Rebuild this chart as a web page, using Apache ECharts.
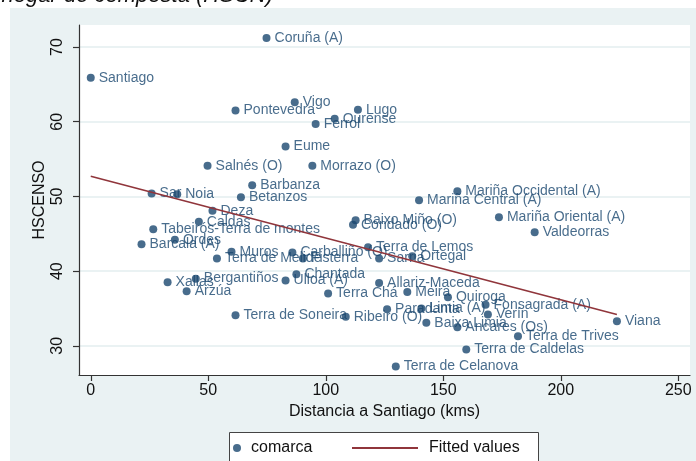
<!DOCTYPE html>
<html>
<head>
<meta charset="utf-8">
<script src="https://cdn.jsdelivr.net/npm/echarts@6/dist/echarts.min.js"></script>
<style>
  html, body { margin: 0; padding: 0; background: #ffffff; }
  #chart { width: 696px; height: 461px; }
</style>
</head>
<body>
<div id="chart"></div>
<script>
// Comarcas of Galicia: distance to Santiago (km) vs. HSCENSO
const comarcas = [
  'Coruña (A)', 'Santiago', 'Vigo', 'Pontevedra', 'Ferrol', 'Ourense', 'Lugo', 'Eume',
  'Salnés (O)', 'Morrazo (O)', 'Barbanza', 'Betanzos', 'Sar', 'Noia', 'Deza', 'Caldas',
  'Tabeirós-Terra de montes', 'Ordes', 'Barcala (A)', 'Muros', 'Terra de Melide', 'Fisterra',
  'Carballiño (O)', 'Terra de Lemos', 'Sarria', 'Ortegal', 'Baixo Miño (O)', 'Condado (O)',
  'Mariña Occidental (A)', 'Mariña Central (A)', 'Mariña Oriental (A)', 'Valdeorras',
  'Chantada', 'Ulloa (A)', 'Bergantiños', 'Xallas', 'Arzúa', 'Terra de Soneira', 'Ribeiro (O)',
  'Terra Chá', 'Allariz-Maceda', 'Meira', 'Quiroga', 'Paradanta', 'Limia (A)', 'Baixa Limia',
  'Ancares (Os)', 'Fonsagrada (A)', 'Verín', 'Terra de Trives', 'Terra de Caldelas',
  'Terra de Celanova', 'Viana'
];
const distancia = [
  74.8, 0, 86.8, 61.6, 95.7, 103.8, 113.7, 82.9,
  49.7, 94.3, 68.7, 63.9, 25.9, 36.8, 51.8, 46.0,
  26.6, 35.8, 21.6, 59.9, 53.7, 90.3,
  85.8, 118.0, 122.7, 136.8, 112.7, 111.6,
  156.0, 139.7, 173.7, 188.9,
  87.5, 82.9, 44.7, 32.7, 40.8, 61.6, 108.5,
  101.0, 122.7, 134.7, 152.0, 126.1, 140.7, 142.8,
  156.0, 168.0, 169.0, 181.8, 159.8,
  129.8, 223.9
];
const hscenso = [
  71.2, 65.9, 62.6, 61.5, 59.7, 60.4, 61.6, 56.7,
  54.1, 54.1, 51.5, 49.9, 50.4, 50.3, 48.1, 46.6,
  45.6, 44.2, 43.6, 42.6, 41.7, 41.7,
  42.5, 43.2, 41.7, 42.0, 46.8, 46.2,
  50.7, 49.5, 47.2, 45.2,
  39.6, 38.75, 39.0, 38.5, 37.3, 34.1, 33.9,
  37.0, 38.4, 37.2, 36.5, 34.9, 35.0, 33.1,
  32.5, 35.5, 34.2, 31.3, 29.5,
  27.25, 33.3
];

// Fitted regression line, at the smallest and largest distance
const fittedX = [0, 223.9];
const fittedY = [52.7, 34.2];

// Axis ticks
const xTicks = [0, 50, 100, 150, 200, 250];
const yTicks = [30, 40, 50, 60, 70];

const navy = '#1a476f';
const maroon = '#90353b';
const font = "'Liberation Sans', Arial, sans-serif";

const points = comarcas.map((name, i) => ({ name: name, value: [distancia[i], hscenso[i]] }));
const fitted = fittedX.map((x, i) => [x, fittedY[i]]);

const chart = echarts.init(document.getElementById('chart'), null, { renderer: 'canvas' });

chart.setOption({
  backgroundColor: '#ffffff',
  animation: false,
  textStyle: { fontFamily: font },
  graphic: [
    {
      type: 'rect', z: -10, silent: true,
      shape: { x: 10, y: 8, width: 700, height: 470 },
      style: { fill: '#eaf2f3' }
    },
    {
      type: 'text', z: 10, silent: true,
      style: {
        x: 273, y: 7, text: 'Tamaño del hogar de composta (HSCN)',
        align: 'right', verticalAlign: 'bottom',
        font: "italic 22px 'Liberation Sans', Arial, sans-serif", fill: '#111'
      }
    },
    {
      type: 'rect', z: 1, silent: true,
      shape: { x: 229.5, y: 432.5, width: 309, height: 40 },
      style: { fill: '#ffffff', stroke: '#444', lineWidth: 1 }
    }
  ],
  grid: {
    left: 79, right: 6, top: 25, bottom: 86,
    show: true, backgroundColor: '#ffffff', borderWidth: 0
  },
  legend: [
    {
      data: [{ name: 'comarca', icon: 'circle' }],
      left: 233, top: 440, padding: 0, z: 5,
      itemWidth: 18, itemHeight: 8,
      textStyle: { fontSize: 16, color: '#111', fontFamily: font }
    },
    {
      data: [{ name: 'Fitted values', icon: 'rect', itemStyle: { color: maroon } }],
      left: 352, top: 440, padding: 0, z: 5,
      itemWidth: 66, itemHeight: 2,
      textStyle: { fontSize: 16, color: '#111', fontFamily: font, padding: [0, 0, 0, 6] }
    }
  ],
  xAxis: {
    type: 'value', min: -5, max: 255,
    name: 'Distancia a Santiago (kms)', nameLocation: 'middle', nameGap: 28,
    nameTextStyle: { fontSize: 16, color: '#111', fontFamily: font },
    axisLine: { show: true, onZero: false, lineStyle: { color: '#333', width: 1.2 } },
    axisTick: { show: true, customValues: xTicks, length: 6, lineStyle: { color: '#333', width: 1.2 } },
    axisLabel: { customValues: xTicks, fontSize: 16, color: '#111', margin: 8, fontFamily: font },
    splitLine: { show: false }
  },
  yAxis: {
    type: 'value', min: 26.1, max: 72.95,
    name: 'HSCENSO', nameLocation: 'middle', nameGap: 31, nameRotate: 90,
    nameMoveOverlap: false,
    nameTextStyle: { fontSize: 16, color: '#111', fontFamily: font },
    axisLine: { show: true, onZero: false, lineStyle: { color: '#333', width: 1.2 } },
    axisTick: { show: true, customValues: yTicks, length: 6, lineStyle: { color: '#333', width: 1.2 } },
    axisLabel: { customValues: yTicks, rotate: 90, fontSize: 16, color: '#111', margin: 13, fontFamily: font },
    splitLine: { show: false }
  },
  series: [
    {
      name: 'comarca',
      type: 'scatter',
      data: points,
      symbol: 'circle',
      symbolSize: 8,
      itemStyle: { color: navy },
      label: {
        show: true, position: 'right', distance: 4,
        formatter: p => p.name,
        fontSize: 14, color: navy, fontFamily: font
      },
      // horizontal grid lines at the y tick values
      markLine: {
        silent: true, symbol: 'none', z: 0,
        label: { show: false },
        lineStyle: { color: '#eaf2f3', width: 2, type: 'solid' },
        data: yTicks.map(v => ({ yAxis: v }))
      },
      z: 3
    },
    {
      name: 'Fitted values',
      type: 'line',
      data: fitted,
      symbol: 'none',
      lineStyle: { color: maroon, width: 1.6 },
      itemStyle: { color: maroon },
      z: 4
    }
  ]
});
</script>
</body>
</html>
